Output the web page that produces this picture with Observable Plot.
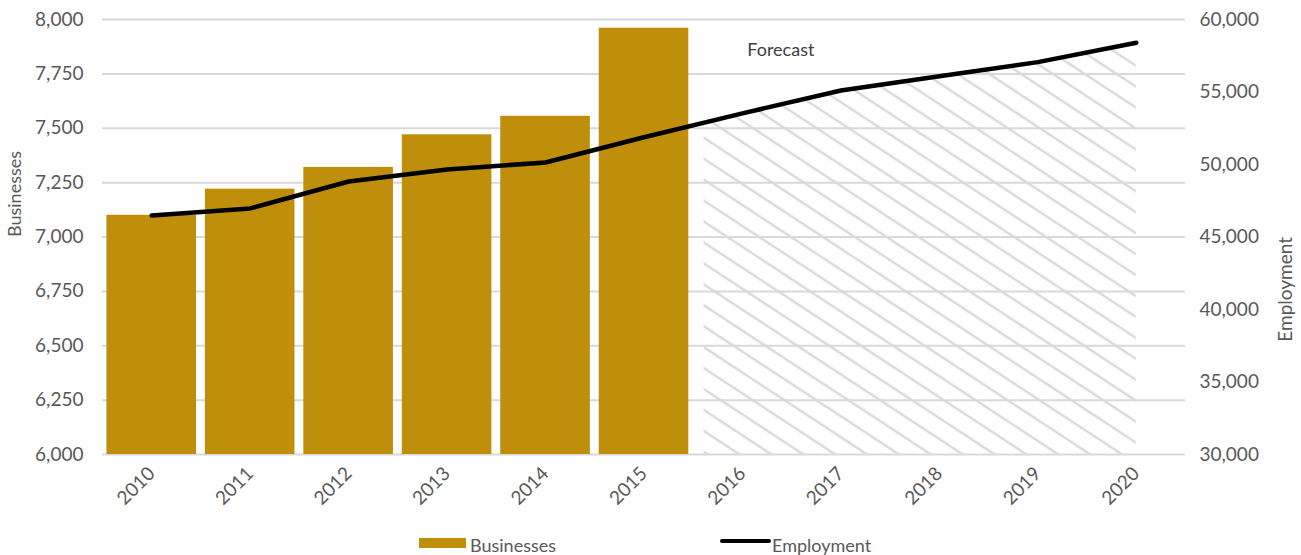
<!DOCTYPE html>
<html>
<head>
<meta charset="utf-8">
<script src="https://cdn.jsdelivr.net/npm/d3@7"></script>
<script src="https://cdn.jsdelivr.net/npm/@observablehq/plot@0.6"></script>
<style>
  html, body { margin: 0; padding: 0; background: #fff; overflow: hidden; }
  #wrap { position: relative; width: 1301px; height: 555px; font-family: Lato, "Open Sans", sans-serif; }
  .lg { position: absolute; font-size: 18px; color: #595959; line-height: 1; }
  .sw { position: absolute; }
</style>
</head>
<body>
<div id="wrap">
  <div id="chart"></div>
  <div class="sw" style="left:419px; top:538px; width:47px; height:10px; background:#bf8f0b;"></div>
  <div class="lg" style="left:470px; top:536px;">Businesses</div>
  <div class="sw" style="left:720px; top:539px; width:51px; height:4px; border-radius:2px; background:#000;"></div>
  <div class="lg" style="left:772px; top:536px;">Employment</div>
</div>
<script>
// ---- data ----
const years = [2010, 2011, 2012, 2013, 2014, 2015, 2016, 2017, 2018, 2019, 2020];
const barYears = [2010, 2011, 2012, 2013, 2014, 2015];
const businesses = [7100, 7220, 7320, 7470, 7555, 7960];
const employment = [46480, 46970, 48830, 49660, 50140, 51880, 53530, 55100, 56090, 57060, 58400];
const forecastYears = [2015, 2016, 2017, 2018, 2019, 2020];
const businessTicks = [6000, 6250, 6500, 6750, 7000, 7250, 7500, 7750, 8000];
const employmentTicks = [30000, 35000, 40000, 45000, 50000, 55000, 60000];
const forecastLabel = "Forecast";

// ---- layout / scale helpers ----
const W = 1301, H = 520;
const hatchStart = 2015.61;
const toB = e => 6000 + (e - 30000) * (2000 / 30000);
const fromB = b => 30000 + (b - 6000) * (30000 / 2000);
const fmt = d3.format(",");

const barData = barYears.map((y, i) => ({year: y, value: businesses[i]}));
const lineData = years.map((y, i) => ({year: y, b: toB(employment[i])}));
const areaData = lineData.filter(d => forecastYears.includes(d.year));

function defsMark() {
  const ns = "http://www.w3.org/2000/svg";
  const g = document.createElementNS(ns, "g");
  g.innerHTML = `<defs>
    <pattern id="hatch" patternUnits="userSpaceOnUse" width="30" height="17.5" patternTransform="rotate(33.3)">
      <line x1="-2" y1="8.75" x2="32" y2="8.75" stroke="#d9d9d9" stroke-width="2.2"/>
    </pattern>
  </defs>`;
  return g;
}

const plot = Plot.plot({
  width: W,
  height: H,
  marginLeft: 102,
  marginRight: 116,
  marginTop: 19,
  marginBottom: H - 454,
  x: {domain: [2009.5, 2020.5]},
  y: {domain: [6000, 8000]},
  style: {fontFamily: "Lato, 'Open Sans', sans-serif", fontSize: "19px", color: "#595959", background: "#fff"},
  marks: [
    defsMark,
    Plot.gridY(businessTicks, {stroke: "#d9d9d9", strokeOpacity: 1, strokeWidth: 2, dx: 0}),
    Plot.areaY(areaData, {x: "year", y1: 6000, y2: "b", fill: "url(#hatch)"}),
    Plot.rect(barData, {x1: d => d.year - 0.455, x2: d => d.year + 0.455, y1: 6000, y2: "value", fill: "#bf8f0b"}),
    Plot.line(lineData, {x: "year", y: "b", stroke: "#000", strokeWidth: 4.5, strokeLinecap: "round", strokeLinejoin: "round"}),
    Plot.text([forecastLabel], {x: 2016.39, y: 7857, text: d => d, fontSize: 18, fill: "#404040"}),
    Plot.axisY({ticks: businessTicks, tickSize: 0, tickPadding: 19, tickFormat: fmt, label: null}),
    Plot.axisY({anchor: "right", ticks: employmentTicks.map(toB), tickSize: 0, tickPadding: 14,
      tickFormat: d => fmt(Math.round(fromB(d))), label: null}),
    Plot.axisX({ticks: years, tickFormat: d => String(d), tickRotate: -45, tickSize: 0, tickPadding: 16, label: null}),
    Plot.text(["Businesses"], {frameAnchor: "left", dx: -87, rotate: -90, text: d => d, fontSize: 18, fill: "#595959"}),
    Plot.text(["Employment"], {frameAnchor: "right", dx: 100, rotate: -90, text: d => d, fontSize: 19, fill: "#595959"})
  ]
});

// clip the hatched forecast area so it begins just right of the last actual bar
const ns = "http://www.w3.org/2000/svg";
const x0 = plot.scale("x").apply(hatchStart);
const defs = plot.querySelector("defs") || plot.insertBefore(document.createElementNS(ns, "defs"), plot.firstChild);
const cp = document.createElementNS(ns, "clipPath");
cp.setAttribute("id", "fcClip");
const r = document.createElementNS(ns, "rect");
r.setAttribute("x", x0); r.setAttribute("y", 0);
r.setAttribute("width", W - x0); r.setAttribute("height", H);
cp.appendChild(r);
defs.appendChild(cp);
const areaG = plot.querySelector('g[aria-label="area"]');
if (areaG) areaG.setAttribute("clip-path", "url(#fcClip)");

document.getElementById("chart").appendChild(plot);
</script>
</body>
</html>
